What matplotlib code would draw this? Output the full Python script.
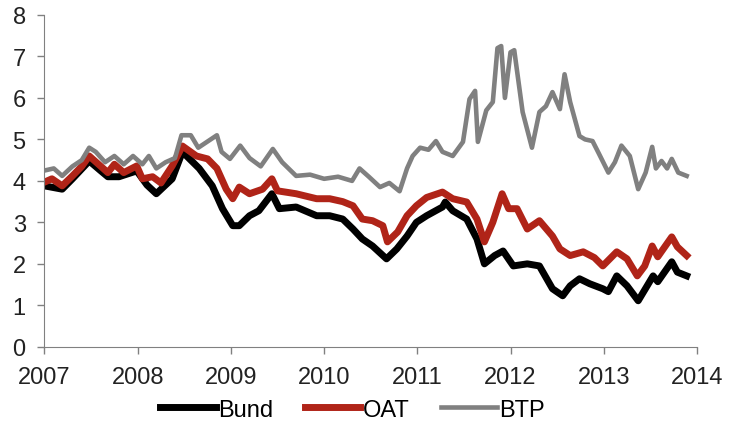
import matplotlib
matplotlib.use("Agg")
import matplotlib.pyplot as plt

plt.rcParams["font.family"] = ["Liberation Sans", "DejaVu Sans"]

# 10-year government bond yields (%), decimal-year time axis
bund_t = [2007.00, 2007.19, 2007.30, 2007.48, 2007.60, 2007.68, 2007.80, 2007.99,
          2008.10, 2008.20, 2008.37, 2008.48, 2008.66, 2008.80, 2008.91, 2009.02,
          2009.09, 2009.20, 2009.30, 2009.44, 2009.52, 2009.70, 2009.92, 2010.06,
          2010.20, 2010.31, 2010.41, 2010.52, 2010.67, 2010.78, 2010.89, 2010.99,
          2011.10, 2011.27, 2011.30, 2011.38, 2011.53, 2011.64, 2011.72, 2011.83,
          2011.92, 2012.03, 2012.18, 2012.31, 2012.45, 2012.56, 2012.64, 2012.74,
          2012.85, 2012.99, 2013.05, 2013.14, 2013.25, 2013.37, 2013.53, 2013.58,
          2013.73, 2013.79, 2013.89]
bund_y = [3.88, 3.80, 4.05, 4.48, 4.25, 4.10, 4.10, 4.24,
          3.90, 3.69, 4.05, 4.70, 4.30, 3.88, 3.33, 2.92,
          2.92, 3.16, 3.28, 3.69, 3.33, 3.37, 3.16, 3.16,
          3.08, 2.84, 2.60, 2.43, 2.12, 2.36, 2.67, 3.00,
          3.16, 3.37, 3.49, 3.28, 3.08, 2.60, 2.00, 2.20,
          2.31, 1.95, 2.00, 1.95, 1.40, 1.23, 1.47, 1.64,
          1.52, 1.40, 1.33, 1.71, 1.47, 1.11, 1.71, 1.57,
          2.05, 1.80, 1.71]

oat_t = [2007.00, 2007.08, 2007.19, 2007.30, 2007.40, 2007.48, 2007.60, 2007.68,
         2007.75, 2007.85, 2007.99, 2008.05, 2008.16, 2008.25, 2008.37, 2008.48,
         2008.63, 2008.75, 2008.85, 2008.95, 2009.02, 2009.09, 2009.20, 2009.34,
         2009.44, 2009.50, 2009.70, 2009.92, 2010.06, 2010.20, 2010.31, 2010.41,
         2010.52, 2010.63, 2010.68, 2010.79, 2010.89, 2010.99, 2011.10, 2011.27,
         2011.38, 2011.53, 2011.64, 2011.72, 2011.81, 2011.91, 2011.98, 2012.07,
         2012.18, 2012.31, 2012.45, 2012.53, 2012.64, 2012.78, 2012.90, 2012.99,
         2013.14, 2013.25, 2013.36, 2013.44, 2013.52, 2013.58, 2013.73, 2013.79,
         2013.89]
oat_y = [3.97, 4.05, 3.88, 4.12, 4.35, 4.60, 4.36, 4.20,
         4.40, 4.20, 4.36, 4.05, 4.10, 3.95, 4.36, 4.84,
         4.60, 4.53, 4.30, 3.80, 3.57, 3.85, 3.69, 3.80,
         4.05, 3.76, 3.69, 3.57, 3.57, 3.50, 3.40, 3.08,
         3.04, 2.92, 2.53, 2.77, 3.16, 3.40, 3.60, 3.73,
         3.57, 3.49, 3.08, 2.53, 3.00, 3.69, 3.33, 3.33,
         2.84, 3.04, 2.67, 2.36, 2.20, 2.29, 2.15, 1.95,
         2.29, 2.12, 1.71, 1.95, 2.43, 2.17, 2.65, 2.41,
         2.20]

btp_t = [2007.00, 2007.10, 2007.19, 2007.30, 2007.40, 2007.48, 2007.55, 2007.65,
         2007.75, 2007.85, 2007.95, 2008.05, 2008.12, 2008.20, 2008.30, 2008.40,
         2008.47, 2008.57, 2008.65, 2008.75, 2008.85, 2008.90, 2008.99, 2009.10,
         2009.20, 2009.32, 2009.45, 2009.55, 2009.70, 2009.85, 2010.00, 2010.15,
         2010.30, 2010.38, 2010.48, 2010.60, 2010.70, 2010.81, 2010.89, 2010.95,
         2011.03, 2011.12, 2011.20, 2011.27, 2011.38, 2011.49, 2011.56, 2011.62,
         2011.65, 2011.74, 2011.81, 2011.86, 2011.90, 2011.94, 2012.00, 2012.04,
         2012.13, 2012.23, 2012.31, 2012.38, 2012.45, 2012.53, 2012.58, 2012.64,
         2012.74, 2012.80, 2012.88, 2012.95, 2013.05, 2013.12, 2013.19, 2013.28,
         2013.37, 2013.45, 2013.52, 2013.56, 2013.62, 2013.68, 2013.73, 2013.80,
         2013.89]
btp_y = [4.25, 4.30, 4.12, 4.35, 4.50, 4.80, 4.70, 4.45,
         4.60, 4.40, 4.60, 4.40, 4.60, 4.30, 4.45, 4.55,
         5.10, 5.10, 4.80, 4.95, 5.10, 4.70, 4.53, 4.85,
         4.55, 4.35, 4.77, 4.45, 4.12, 4.15, 4.05, 4.10,
         4.00, 4.30, 4.10, 3.85, 3.95, 3.75, 4.30, 4.60,
         4.80, 4.75, 4.96, 4.70, 4.60, 4.94, 5.97, 6.17,
         4.94, 5.70, 5.90, 7.20, 7.25, 6.00, 7.10, 7.15,
         5.66, 4.80, 5.66, 5.80, 6.14, 5.73, 6.57, 5.90,
         5.08, 5.00, 4.96, 4.65, 4.20, 4.45, 4.85, 4.60,
         3.80, 4.20, 4.82, 4.30, 4.48, 4.30, 4.53, 4.20,
         4.12]

years = list(range(2007, 2015))
yticks = list(range(0, 9))

fig = plt.figure(figsize=(7.29, 4.31), dpi=100)
ax = fig.add_axes([0.061, 0.193, 0.895, 0.77])

ax.plot(bund_t, bund_y, color="black", lw=5.0, label="Bund", solid_joinstyle="round")
ax.plot(oat_t, oat_y, color="#b02418", lw=5.0, label="OAT", solid_joinstyle="round")
ax.plot(btp_t, btp_y, color="#808080", lw=3.3, label="BTP", solid_joinstyle="round")

ax.set_xlim(2007, 2014)
ax.set_ylim(0, 8)
ax.set_xticks(years)
ax.set_yticks(yticks)
ax.tick_params(axis="both", direction="out", length=5, width=1, color="#808080",
               labelsize=17, labelcolor="#222222")
ax.tick_params(axis="x", pad=9)
ax.tick_params(axis="y", pad=8.5)
for side in ("top", "right"):
    ax.spines[side].set_visible(False)
for side in ("left", "bottom"):
    ax.spines[side].set_color("#808080")

fig.legend(loc="center", bbox_to_anchor=(0.4835, 0.047), ncol=3, frameon=False,
           fontsize=17, handlelength=2.35, handletextpad=0.1, columnspacing=1.35)

fig.savefig("out.png", dpi=100)
